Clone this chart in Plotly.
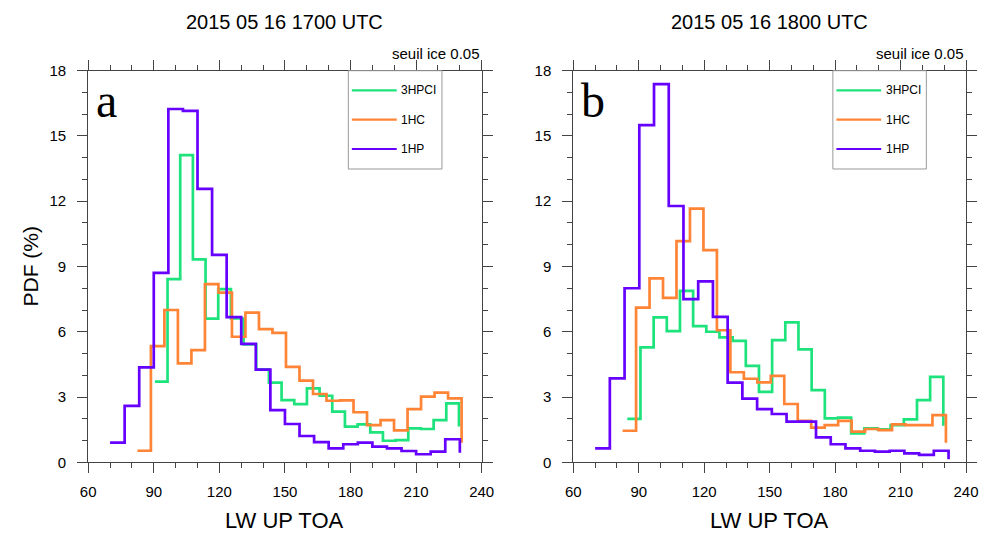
import numpy as np
import plotly.graph_objects as go

# ---------------- data ----------------
series_names = ["3HPCI", "1HC", "1HP"]
series_colors = ["#1ee37c", "#ff8436", "#6600ff"]

# panel a (2015 05 16 1700 UTC): bin range [min, max] for each series, 24 bins
a_range_3HPCI = [90.5, 229.6]
a_range_1HC = [82.5, 230.8]
a_range_1HP = [70.0, 230.0]
a_3HPCI = [3.71, 8.42, 14.12, 9.33, 6.60, 7.96, 6.61, 5.42, 4.27, 3.66, 2.86, 2.67,
           3.40, 3.06, 2.33, 1.64, 1.74, 1.38, 0.99, 1.02, 1.56, 1.53, 1.94, 2.71, 1.64]
a_1HC = [0.53, 5.34, 7.00, 4.55, 5.16, 8.19, 7.80, 5.77, 6.88, 6.12, 5.95, 4.39,
         3.75, 3.14, 2.83, 2.85, 2.30, 1.71, 1.94, 1.47, 2.44, 3.02, 3.20, 2.94, 0.90]
a_1HP = [0.90, 2.59, 4.36, 8.71, 16.24, 16.15, 12.57, 9.53, 6.67, 5.44, 4.26, 2.40,
         1.76, 1.21, 0.93, 0.64, 0.83, 0.90, 0.72, 0.64, 0.52, 0.37, 0.49, 1.06, 0.44]

# panel b (2015 05 16 1800 UTC)
b_range_3HPCI = [84.75, 229.6]
b_range_1HC = [82.6, 230.8]
b_range_1HP = [70.0, 232.0]
b_3HPCI = [2.00, 5.28, 6.66, 6.03, 7.88, 6.26, 6.00, 5.74, 5.58, 4.43, 3.24, 5.62,
           6.43, 5.19, 3.32, 2.02, 2.05, 1.33, 1.56, 1.52, 1.71, 1.97, 2.86, 3.93, 1.68]
b_1HC = [1.45, 7.11, 8.45, 7.56, 10.17, 11.66, 9.75, 6.07, 4.14, 3.84, 3.67, 3.97,
         2.68, 1.90, 1.59, 1.71, 1.90, 1.41, 1.53, 1.48, 1.74, 1.71, 1.71, 2.17, 0.90]
b_1HP = [0.64, 3.86, 8.00, 15.50, 17.38, 11.78, 7.50, 8.32, 6.68, 3.66, 2.93, 2.44,
         2.22, 1.87, 1.87, 1.15, 0.83, 0.64, 0.53, 0.49, 0.53, 0.41, 0.34, 0.53, 0.14]

panel_titles = ["2015 05 16 1700 UTC", "2015 05 16 1800 UTC"]
panel_letters = ["a", "b"]
subtitle = "seuil ice 0.05"
x_title = "LW UP TOA"
y_title = "PDF (%)"
x_ticks = [60, 90, 120, 150, 180, 210, 240]
y_ticks = [0, 3, 6, 9, 12, 15, 18]

panels = [
    ([a_range_3HPCI, a_range_1HC, a_range_1HP], [a_3HPCI, a_1HC, a_1HP]),
    ([b_range_3HPCI, b_range_1HC, b_range_1HP], [b_3HPCI, b_1HC, b_1HP]),
]

# ---------------- figure ----------------
W, H = 984, 534
fig = go.Figure()

for p, (ranges, values) in enumerate(panels):
    xa = "x" if p == 0 else "x2"
    ya = "y" if p == 0 else "y2"
    for name, col, rng, vals in zip(series_names, series_colors, ranges, values):
        xs = np.linspace(rng[0], rng[1], len(vals))
        fig.add_trace(go.Scatter(
            x=xs, y=vals, mode="lines", name=name,
            line=dict(color=col, width=2.7, shape="hv"),
            xaxis=xa, yaxis=ya, showlegend=False, hoverinfo="skip"))

ydom = [1 - 462.3 / H, 1 - 70.7 / H]
xdoms = [[88.2 / W, 481.7 / W], [573.3 / W, 966.0 / W]]

axis_common = dict(
    showline=True, linecolor="#444", linewidth=1, mirror="ticks",
    ticks="outside", ticklen=10, tickwidth=1, tickcolor="#444",
    showgrid=False, zeroline=False, automargin=False,
    tickfont=dict(family="Liberation Sans", size=15, color="black"),
)

fig.update_layout(
    template="none",
    width=W, height=H, margin=dict(l=0, r=0, t=0, b=0, pad=0, autoexpand=False),
    plot_bgcolor="white", paper_bgcolor="white", showlegend=False,
    xaxis=dict(domain=xdoms[0], anchor="y", range=[60, 240], tickvals=x_ticks,
               minor=dict(dtick=10, tick0=60, ticklen=5, ticks="outside", tickcolor="#444"),
               ticklabelstandoff=6, **axis_common),
    xaxis2=dict(domain=xdoms[1], anchor="y2", range=[60, 240], tickvals=x_ticks,
                minor=dict(dtick=10, tick0=60, ticklen=5, ticks="outside", tickcolor="#444"),
                ticklabelstandoff=6, **axis_common),
    yaxis=dict(domain=ydom, anchor="x", range=[0, 18], tickvals=y_ticks,
               minor=dict(dtick=1, tick0=0, ticklen=5, ticks="outside", tickcolor="#444"),
               ticklabelstandoff=8, **axis_common),
    yaxis2=dict(domain=ydom, anchor="x2", range=[0, 18], tickvals=y_ticks,
                minor=dict(dtick=1, tick0=0, ticklen=5, ticks="outside", tickcolor="#444"),
                ticklabelstandoff=8, **axis_common),
)

font = "Liberation Sans"
anns = []
shapes = []
for p in range(2):
    xd = "x domain" if p == 0 else "x2 domain"
    yd = "y domain" if p == 0 else "y2 domain"
    cx = (xdoms[p][0] + xdoms[p][1]) / 2
    anns.append(dict(text=panel_titles[p], x=cx, y=1 - 22 / H, xref="paper", yref="paper",
                     showarrow=False, xanchor="center", yanchor="middle",
                     font=dict(family=font, size=20, color="black")))
    anns.append(dict(text=subtitle, x=1.0, y=1 - 53 / H, xref=xd, yref="paper",
                     showarrow=False, xanchor="right", yanchor="middle",
                     font=dict(family=font, size=15, color="black")))
    anns.append(dict(text=x_title, x=0.5, y=0.0, xref=xd, yref="paper",
                     showarrow=False, xanchor="center", yanchor="bottom", borderpad=0,
                     font=dict(family=font, size=22, color="black")))
    anns.append(dict(text=panel_letters[p], x=0.015, y=0.925, xref=xd, yref=yd,
                     showarrow=False, xanchor="left", yanchor="middle",
                     font=dict(family="Liberation Serif", size=48, color="black")))
    # legend box
    shapes.append(dict(type="rect", xref=xd, yref=yd, x0=0.661, x1=0.899, y0=0.749, y1=1.0,
                       line=dict(color="#999", width=1), fillcolor="rgba(0,0,0,0)"))
    for i, (name, col) in enumerate(zip(series_names, series_colors)):
        yy = 0.950 - i * 0.075
        shapes.append(dict(type="line", xref=xd, yref=yd, x0=0.670, x1=0.784, y0=yy, y1=yy,
                           line=dict(color=col, width=2.2)))
        anns.append(dict(text=name, x=0.790, y=yy, xref=xd, yref=yd, showarrow=False,
                         xanchor="left", yanchor="middle",
                         font=dict(family=font, size=12, color="black")))

anns.append(dict(text=y_title, x=30 / W, y=0.5 * (ydom[0] + ydom[1]), xref="paper", yref="paper",
                 showarrow=False, textangle=-90, xanchor="center", yanchor="middle",
                 font=dict(family=font, size=21, color="black")))

fig.update_layout(annotations=anns, shapes=shapes)
fig.write_html(
    "out.html",
    config={"displayModeBar": False},
    post_script="document.body.style.margin='0px';document.body.style.overflow='hidden';",
)
